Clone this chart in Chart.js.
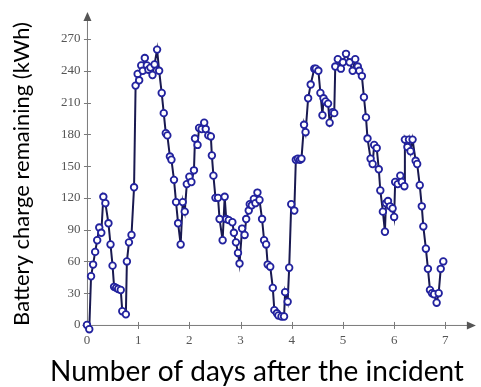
<!DOCTYPE html>
<html>
<head>
<meta charset="utf-8">
<script src="https://cdn.jsdelivr.net/npm/chart.js@4/dist/chart.umd.min.js"></script>
<style>
  html, body { margin: 0; padding: 0; background: #fff; }
  #wrap { width: 481px; height: 387px; position: relative; }
</style>
</head>
<body>
<div id="wrap"><canvas id="c"></canvas></div>
<script>
// Time since the incident, in days
const days = [
  0, 0.045, 0.08, 0.12, 0.16, 0.2, 0.24, 0.28, 0.32, 0.36,
  0.42, 0.46, 0.5, 0.53, 0.57, 0.61, 0.66, 0.69, 0.76, 0.78,
  0.82, 0.87, 0.92, 0.95, 0.99, 1.02, 1.06, 1.09, 1.13, 1.17,
  1.2, 1.24, 1.28, 1.32, 1.37, 1.41, 1.46, 1.5, 1.54, 1.57,
  1.62, 1.65, 1.7, 1.74, 1.78, 1.83, 1.87, 1.91, 1.95, 2.0,
  2.04, 2.09, 2.11, 2.16, 2.19, 2.24, 2.29, 2.32, 2.37, 2.42,
  2.44, 2.47, 2.51, 2.56, 2.59, 2.65, 2.69, 2.72, 2.77, 2.84,
  2.87, 2.91, 2.95, 2.98, 3.03, 3.08, 3.11, 3.16, 3.18, 3.22,
  3.26, 3.29, 3.33, 3.37, 3.42, 3.46, 3.5, 3.53, 3.58, 3.63,
  3.66, 3.71, 3.74, 3.8, 3.85, 3.87, 3.92, 3.95, 3.99, 4.05,
  4.08, 4.12, 4.16, 4.19, 4.24, 4.27, 4.32, 4.37, 4.44, 4.47,
  4.52, 4.56, 4.6, 4.62, 4.66, 4.71, 4.74, 4.8, 4.83, 4.85,
  4.9, 4.96, 5.0, 5.06, 5.13, 5.19, 5.24, 5.29, 5.32, 5.37,
  5.41, 5.45, 5.48, 5.54, 5.58, 5.61, 5.66, 5.7, 5.73, 5.78,
  5.82, 5.84, 5.88, 5.92, 5.97, 6.0, 6.02, 6.07, 6.12, 6.15,
  6.2, 6.21, 6.26, 6.29, 6.32, 6.36, 6.42, 6.45, 6.5, 6.54,
  6.57, 6.62, 6.66, 6.7, 6.74, 6.78, 6.83, 6.87, 6.91, 6.96
];

// Battery charge remaining, kWh
const chargeKWh = [
  0, -4, 46, 57, 69, 80, 92, 87, 121, 115,
  96, 76, 56, 36, 35, 34, 33, 13, 10, 60,
  78, 85, 130, 226, 237, 231, 245, 240, 252, 245,
  241, 243, 236, 246, 260, 240, 219, 200, 181, 179,
  159, 156, 137, 116, 96, 76, 116, 107, 133, 140,
  135, 146, 176, 170, 186, 185, 191, 185, 179, 178,
  160, 141, 120, 120, 100, 80, 121, 100, 99, 97,
  87, 78, 68, 58, 91, 85, 100, 108, 114, 113,
  119, 115, 125, 118, 100, 80, 76, 57, 55, 35,
  14, 11, 9, 8, 8, 31, 22, 54, 114, 108,
  156, 157, 156, 157, 189, 182, 214, 227, 242, 242,
  240, 219, 198, 214, 211, 209, 191, 201, 200, 244,
  251, 242, 248, 256, 248, 240, 251, 244, 240, 235,
  215, 196, 176, 157, 152, 170, 167, 147, 127, 107,
  88, 115, 117, 112, 110, 102, 135, 133, 141, 135,
  131, 175, 168, 175, 164, 175, 155, 152, 132, 112,
  93, 72, 53, 33, 30, 29, 21, 30, 53, 60
];

const xTickValues = [0, 1, 2, 3, 4, 5, 6, 7];
const yTickValues = [0, 30, 60, 90, 120, 150, 180, 210, 240, 270];

const xTitle = 'Number of days after the incident';
const yTitle = 'Battery charge remaining (kWh)';

const points = days.map((d, i) => ({ x: d, y: chargeKWh[i] }));

const AXIS = '#7a7a7a';

// Axes through the origin with arrow heads, small cross ticks, and axis titles
const axesPlugin = {
  id: 'originAxes',
  beforeDatasetsDraw(chart) {
    const { ctx, chartArea: a, scales: { x, y } } = chart;
    const x0 = x.getPixelForValue(0);
    const y0 = y.getPixelForValue(0);
    ctx.save();
    ctx.strokeStyle = AXIS;
    ctx.fillStyle = '#555';
    ctx.lineWidth = 1;
    // horizontal axis
    ctx.beginPath();
    ctx.moveTo(a.left - 2, y0 + 0.5);
    ctx.lineTo(a.right - 6, y0 + 0.5);
    ctx.stroke();
    ctx.beginPath();
    ctx.moveTo(a.right, y0 + 0.5);
    ctx.lineTo(a.right - 9, y0 - 3.5);
    ctx.lineTo(a.right - 9, y0 + 4.5);
    ctx.closePath();
    ctx.fill();
    // vertical axis
    ctx.beginPath();
    ctx.moveTo(x0 + 0.5, a.bottom);
    ctx.lineTo(x0 + 0.5, a.top + 6);
    ctx.stroke();
    ctx.beginPath();
    ctx.moveTo(x0 + 0.5, a.top);
    ctx.lineTo(x0 - 3.5, a.top + 9);
    ctx.lineTo(x0 + 4.5, a.top + 9);
    ctx.closePath();
    ctx.fill();
    // tick marks
    ctx.beginPath();
    xTickValues.forEach(v => {
      const px = Math.round(x.getPixelForValue(v)) + 0.5;
      ctx.moveTo(px, y0 - 3);
      ctx.lineTo(px, y0 + 4);
    });
    yTickValues.forEach(v => {
      const py = Math.round(y.getPixelForValue(v)) + 0.5;
      ctx.moveTo(x0 - 3, py);
      ctx.lineTo(x0 + 4, py);
    });
    ctx.stroke();
    ctx.restore();
  },
  afterDraw(chart) {
    const { ctx } = chart;
    ctx.save();
    ctx.fillStyle = '#000';
    ctx.textBaseline = 'alphabetic';
    ctx.font = '28px Lato';
    ctx.textAlign = 'center';
    ctx.fillText(xTitle, 257, 381);
    ctx.translate(29, 174);
    ctx.rotate(-Math.PI / 2);
    ctx.font = '22px Lato';
    ctx.fillText(yTitle, 0, 0);
    ctx.restore();
  }
};

new Chart(document.getElementById('c'), {
  type: 'scatter',
  data: {
    datasets: [{
      data: points,
      showLine: true,
      borderColor: '#191950',
      borderWidth: 2,
      tension: 0,
      pointRadius: 3.3,
      pointHoverRadius: 3.3,
      pointBorderWidth: 1.8,
      pointBorderColor: '#22229e',
      pointBackgroundColor: '#ffffff',
      clip: false
    }]
  },
  options: {
    responsive: true,
    maintainAspectRatio: false,
    animation: false,
    events: [],
    layout: { padding: { top: 12, right: 2, left: 0, bottom: 0 } },
    plugins: { legend: { display: false }, tooltip: { enabled: false } },
    scales: {
      x: {
        type: 'linear',
        min: -0.05,
        max: 7.597,
        afterBuildTicks: s => { s.ticks = xTickValues.map(v => ({ value: v })); },
        afterFit: s => { s.height = 56; },
        grid: { display: false, drawTicks: false },
        border: { display: false },
        ticks: {
          padding: 2,
          color: '#555',
          font: { family: 'Liberation Serif', size: 13 }
        }
      },
      y: {
        type: 'linear',
        min: -5.7,
        max: 295.5,
        afterBuildTicks: s => { s.ticks = yTickValues.map(v => ({ value: v })); },
        afterFit: s => { s.width = 84.4; },
        grid: { display: false, drawTicks: false },
        border: { display: false },
        ticks: {
          padding: 4,
          color: '#555',
          font: { family: 'Liberation Serif', size: 13 }
        }
      }
    }
  },
  plugins: [axesPlugin]
});
</script>
</body>
</html>
